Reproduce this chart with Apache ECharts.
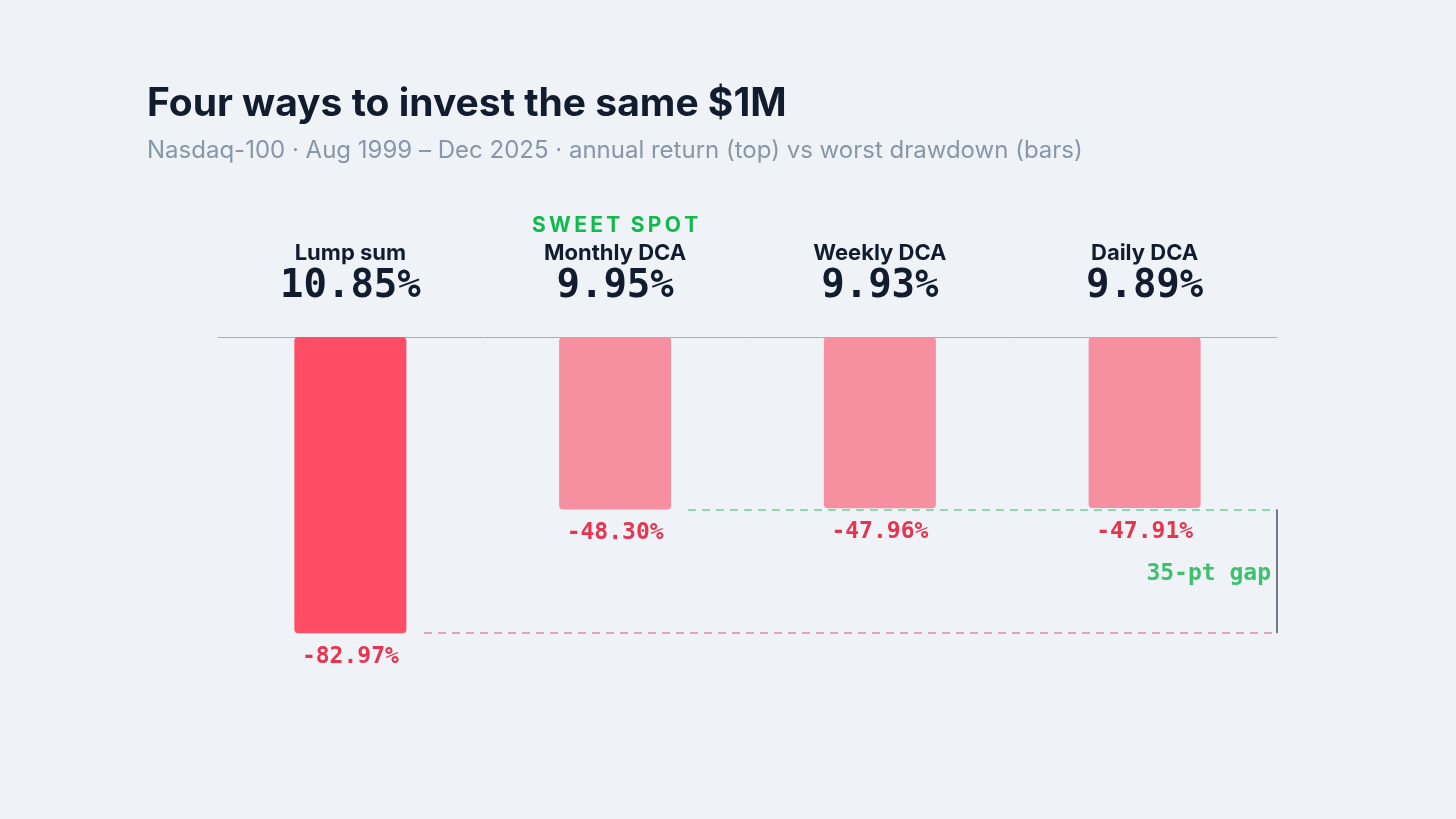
<!DOCTYPE html>
<html>
<head>
<meta charset="utf-8">
<script src="https://cdn.jsdelivr.net/npm/echarts@6/dist/echarts.min.js"></script>
<style>
  html, body { margin: 0; padding: 0; background: #eff3f8; }
  #chart { width: 1456px; height: 819px; }
</style>
</head>
<body>
<div id="chart"></div>
<script>
// data
var categories = ['Lump sum', 'Monthly DCA', 'Weekly DCA', 'Daily DCA'];
var annualReturn = [10.85, 9.95, 9.93, 9.89];
var drawdown = [-82.97, -48.30, -47.96, -47.91];
var sweetSpot = 1; // index of the "sweet spot" strategy

var dom = document.getElementById('chart');
var myChart = echarts.init(dom);

var sans = 'Inter, "Noto Sans", sans-serif';
var mono = '"DejaVu Sans Mono", monospace';

var gapTop = drawdown[sweetSpot];
var gapBottom = drawdown[0];
var gapText = Math.round(gapTop - gapBottom) + '-pt gap';

var option = {
    backgroundColor: '#eff3f8',
    animation: false,
    title: {
        text: 'Four ways to invest the same $1M',
        subtext: 'Nasdaq-100 · Aug 1999 – Dec 2025 · annual return (top) vs worst drawdown (bars)',
        left: 142,
        top: 80,
        itemGap: 15,
        textStyle: { fontFamily: sans, fontSize: 39, fontWeight: 'bold', color: '#111c2e' },
        subtextStyle: { fontFamily: sans, fontSize: 24, color: '#8796a8' }
    },
    grid: { left: 218, right: 179, top: 337, height: 357 },
    xAxis: [{
        type: 'category',
        data: categories,
        position: 'top',
        axisLine: { show: true, lineStyle: { color: '#a3afc2', width: 1 } },
        axisTick: { show: false },
        axisLabel: {
            margin: 30,
            interval: 0,
            formatter: function (v, i) {
                var s = '{name|' + v + '}\n{val|' + annualReturn[i].toFixed(2) + '%}';
                if (i === sweetSpot) s = '{tag|S\u2009W\u2009E\u2009E\u2009T\u2002S\u2009P\u2009O\u2009T}\n' + s;
                return s;
            },
            rich: {
                tag: { fontFamily: sans, fontSize: 21, fontWeight: 'bold', color: '#12b94c', lineHeight: 26 },
                name: { fontFamily: sans, fontSize: 22, fontWeight: 'bold', color: '#111c2e', lineHeight: 28 },
                val: { fontFamily: mono, fontSize: 39, fontWeight: 'bold', color: '#111c2e', lineHeight: 40 }
            }
        }
    }, {
        type: 'value',
        min: 0,
        max: 4,
        show: false
    }],
    yAxis: {
        type: 'value',
        min: -100,
        max: 0,
        show: false,
        splitLine: { show: false }
    },
    series: [{
        type: 'bar',
        xAxisIndex: 0,
        barWidth: 112,
        data: drawdown.map(function (d, i) {
            return {
                value: d,
                itemStyle: { color: i === 0 ? '#ff4d66' : '#f68fa0', borderRadius: 4 }
            };
        }),
        label: {
            show: true,
            position: 'bottom',
            distance: 12,
            fontFamily: mono,
            fontSize: 23,
            fontWeight: 'bold',
            color: '#e8344e',
            formatter: function (p) { return p.value.toFixed(2) + '%'; }
        }
    }, {
        type: 'scatter',
        xAxisIndex: 1,
        symbolSize: 0,
        silent: true,
        data: [[4, (gapTop + gapBottom) / 2]],
        label: {
            show: true,
            position: 'left',
            distance: 6,
            offset: [0, 3],
            formatter: gapText,
            fontFamily: mono,
            fontSize: 23,
            fontWeight: 'bold',
            color: '#0fb548'
        },
        markLine: {
            silent: true,
            symbol: 'none',
            label: { show: false },
            data: [
                [{ coord: [1.775, gapTop], lineStyle: { color: '#6fd094', type: [8, 6], width: 1.5 } }, { coord: [4, gapTop] }],
                [{ coord: [0.778, gapBottom], lineStyle: { color: '#e08a9b', type: [8, 6], width: 1.5 } }, { coord: [4, gapBottom] }],
                [{ coord: [4, gapTop], lineStyle: { color: '#4a5360', type: 'solid', width: 1.5 } }, { coord: [4, gapBottom] }]
            ]
        }
    }]
};

myChart.setOption(option);
window.onresize = myChart.resize;
</script>
</body>
</html>
